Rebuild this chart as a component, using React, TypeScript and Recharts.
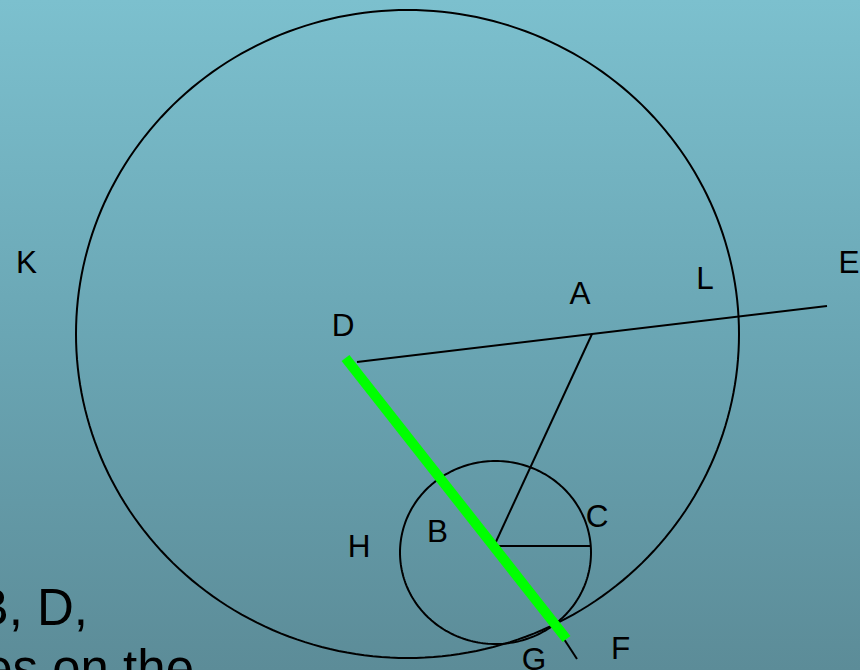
import React from "react";
import { ComposedChart, Line, Scatter, XAxis, YAxis } from "recharts";

// Geometry (in picture units)
const bigCircle = { cx: 407.5, cy: 334, rx: 331.5, ry: 324 };
const smallCircle = { cx: 495.5, cy: 552.5, rx: 95.5, ry: 91.5 };

const lineDE = [ { x: 357, y: 362 }, { x: 827, y: 306 } ];
const lineAB = [ { x: 592, y: 334 }, { x: 494, y: 546 } ];
const lineBC = [ { x: 494, y: 546 }, { x: 591, y: 546 } ];
const lineGF = [ { x: 562, y: 636 }, { x: 577, y: 659 } ];
const lineGreen = [ { x: 345.5, y: 358 }, { x: 566.5, y: 639 } ];

const labelNames = ["K", "E", "L", "A", "D", "B", "H", "C", "G", "F"];
const labelX = [26.5, 849, 705, 580, 343, 437.5, 359, 597, 534, 620.5];
const labelY = [273, 273, 289, 304, 336, 542, 557, 527, 670, 659];

const slideText = ["B, D,", "es on the"];
const slideTextX = [88, 194];
const slideTextY = [625, 686];

function ellipsePoints(c: { cx: number; cy: number; rx: number; ry: number }) {
  const pts: { x: number; y: number }[] = [];
  const n = 240;
  for (let i = 0; i <= n; i++) {
    const t = (i / n) * Math.PI * 2;
    pts.push({ x: c.cx + c.rx * Math.cos(t), y: c.cy + c.ry * Math.sin(t) });
  }
  return pts;
}

const bigPts = ellipsePoints(bigCircle);
const smallPts = ellipsePoints(smallCircle);

const labelData = labelNames.map((n, i) => ({ x: labelX[i], y: labelY[i], name: n }));
const slideData = slideText.map((s, i) => ({ x: slideTextX[i], y: slideTextY[i], name: s }));

const LabelShape = (props: any) => {
  const { cx, cy, payload } = props;
  return (
    <text x={cx} y={cy} textAnchor="middle" fontSize={31.5} fill="#000"
      fontFamily="'Liberation Sans', Arial, sans-serif">
      {payload.name}
    </text>
  );
};

const SlideShape = (props: any) => {
  const { cx, cy, payload } = props;
  return (
    <text x={cx} y={cy} textAnchor="end" fontSize={51} fill="#000"
      fontFamily="'Liberation Sans', Arial, sans-serif">
      {payload.name}
    </text>
  );
};

export default function App() {
  return (
    <div style={{
      position: "fixed", left: 0, top: 0, width: 860, height: 670, overflow: "hidden",
      background: "linear-gradient(to bottom, #7cc0ce 0%, #6aa6b4 50%, #5c8c98 100%)",
    }}>
      <ComposedChart width={860} height={670} margin={{ top: 0, right: 0, bottom: 0, left: 0 }}>
        <XAxis type="number" dataKey="x" domain={[0, 860]} hide allowDataOverflow />
        <YAxis type="number" dataKey="y" domain={[0, 670]} reversed hide allowDataOverflow width={0} />
        <Line data={bigPts} dataKey="y" type="linear" stroke="#000" strokeWidth={2} dot={false} isAnimationActive={false} />
        <Line data={smallPts} dataKey="y" type="linear" stroke="#000" strokeWidth={2} dot={false} isAnimationActive={false} />
        <Line data={lineDE} dataKey="y" type="linear" stroke="#000" strokeWidth={2} dot={false} isAnimationActive={false} />
        <Line data={lineAB} dataKey="y" type="linear" stroke="#000" strokeWidth={2} dot={false} isAnimationActive={false} />
        <Line data={lineBC} dataKey="y" type="linear" stroke="#000" strokeWidth={2} dot={false} isAnimationActive={false} />
        <Line data={lineGF} dataKey="y" type="linear" stroke="#000" strokeWidth={2} dot={false} isAnimationActive={false} />
        <Line data={lineGreen} dataKey="y" type="linear" stroke="#00ff00" strokeWidth={10} strokeLinecap="butt" dot={false} isAnimationActive={false} />
        <Scatter data={labelData} dataKey="y" shape={LabelShape} isAnimationActive={false} />
        <Scatter data={slideData} dataKey="y" shape={SlideShape} isAnimationActive={false} />
      </ComposedChart>
    </div>
  );
}
